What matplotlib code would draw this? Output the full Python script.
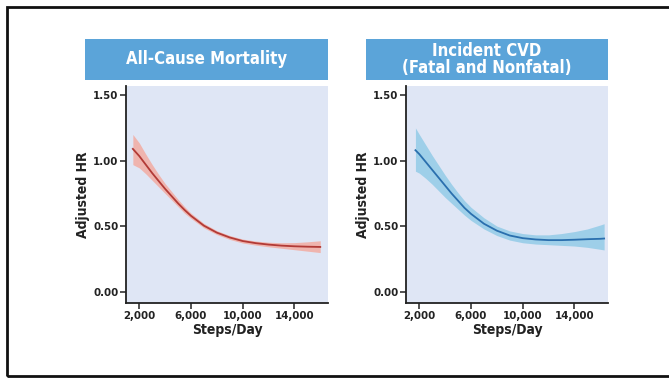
import numpy as np
import matplotlib.pyplot as plt
from matplotlib.patches import Rectangle

plt.rcParams['font.family'] = ['DejaVu Sans']
plt.rcParams['font.stretch'] = 'condensed'

titles = ['All-Cause Mortality', 'Incident CVD\n(Fatal and Nonfatal)']

# all-cause mortality
steps_acm = [1500, 2000, 2500, 3000, 3500, 4000, 4500, 5000, 5500, 6000, 7000, 8000,
             9000, 10000, 11000, 12000, 13000, 14000, 15000, 16000]
hr_acm = [1.09, 1.035, 0.97, 0.905, 0.845, 0.785, 0.73, 0.675, 0.625, 0.58, 0.505, 0.452,
          0.415, 0.388, 0.372, 0.361, 0.353, 0.348, 0.345, 0.343]
lo_acm = [0.97, 0.945, 0.90, 0.85, 0.80, 0.75, 0.70, 0.65, 0.60, 0.56, 0.488, 0.437,
          0.40, 0.373, 0.357, 0.344, 0.333, 0.322, 0.311, 0.30]
hi_acm = [1.20, 1.135, 1.05, 0.97, 0.895, 0.825, 0.765, 0.705, 0.65, 0.60, 0.522, 0.467,
          0.43, 0.403, 0.388, 0.379, 0.375, 0.376, 0.382, 0.39]

# incident CVD
steps_cvd = [1700, 2000, 2500, 3000, 3500, 4000, 4500, 5000, 5500, 6000, 7000, 8000,
             9000, 10000, 11000, 12000, 13000, 14000, 15000, 16000, 16300]
hr_cvd = [1.08, 1.05, 0.99, 0.93, 0.87, 0.81, 0.75, 0.695, 0.64, 0.595, 0.52, 0.467,
          0.43, 0.41, 0.40, 0.395, 0.395, 0.398, 0.402, 0.405, 0.407]
lo_cvd = [0.92, 0.905, 0.865, 0.82, 0.77, 0.72, 0.675, 0.63, 0.585, 0.545, 0.48, 0.43,
          0.395, 0.375, 0.365, 0.36, 0.355, 0.35, 0.34, 0.325, 0.32]
hi_cvd = [1.25, 1.20, 1.12, 1.04, 0.965, 0.89, 0.82, 0.755, 0.695, 0.645, 0.565, 0.502,
          0.465, 0.445, 0.435, 0.435, 0.445, 0.46, 0.48, 0.51, 0.52]

xticks = [2000, 6000, 10000, 14000]
xticklabels = ['2,000', '6,000', '10,000', '14,000']
yticks = [0.0, 0.5, 1.0, 1.5]
yticklabels = ['0.00', '0.50', '1.00', '1.50']

series = [
    (steps_acm, hr_acm, lo_acm, hi_acm, '#b23a36', '#f2aca2'),
    (steps_cvd, hr_cvd, lo_cvd, hi_cvd, '#2a6fae', '#93cbe7'),
]

W, H = 669, 379
fig = plt.figure(figsize=(W / 100, H / 100), dpi=100)

# outer frame
fig.patches.append(Rectangle((7 / W, 3 / H), 1.2, 369 / H, transform=fig.transFigure,
                             fill=False, edgecolor='#111111', linewidth=2))

lefts = [126, 406]
for i, (sx, hr, lo, hi, lc, fc) in enumerate(series):
    l = lefts[i]
    ax = fig.add_axes([l / W, (H - 303) / H, 202 / W, (303 - 86) / H])
    ax.set_facecolor('#dfe6f5')
    ax.fill_between(sx, lo, hi, color=fc, alpha=0.85, linewidth=0)
    ax.plot(sx, hr, color=lc, linewidth=1.3)
    ax.set_xlim(970, 16600)
    ax.set_ylim(-0.084, 1.569)
    ax.set_xticks(xticks)
    ax.set_xticklabels(xticklabels)
    ax.set_yticks(yticks)
    ax.set_yticklabels(yticklabels)
    for s in ['top', 'right']:
        ax.spines[s].set_visible(False)
    for s in ['left', 'bottom']:
        ax.spines[s].set_color('#222222')
        ax.spines[s].set_linewidth(1.3)
    ax.tick_params(direction='out', length=4, width=1.1, color='#222222',
                   labelsize=8.2, pad=1.5, labelcolor='#222222')
    for t in ax.get_xticklabels() + ax.get_yticklabels():
        t.set_fontweight('bold')
    ax.set_xlabel('Steps/Day', fontsize=10, fontweight='bold', color='#222222', labelpad=2)
    ax.set_ylabel('Adjusted HR', fontsize=10, fontweight='bold', color='#222222', labelpad=2)

    # title box
    bx0 = l - 41 if i == 0 else l - 40
    bx1 = l + 202
    fig.patches.append(Rectangle((bx0 / W, (H - 80) / H), (bx1 - bx0) / W, 41 / H,
                                 transform=fig.transFigure, facecolor='#5ba4d9',
                                 edgecolor='none'))
    fig.text((bx0 + bx1) / 2 / W, (H - 59.5) / H, titles[i], ha='center', va='center',
             color='white', fontsize=12, fontweight='bold', linespacing=0.9)

plt.savefig('out.png', dpi=100)
